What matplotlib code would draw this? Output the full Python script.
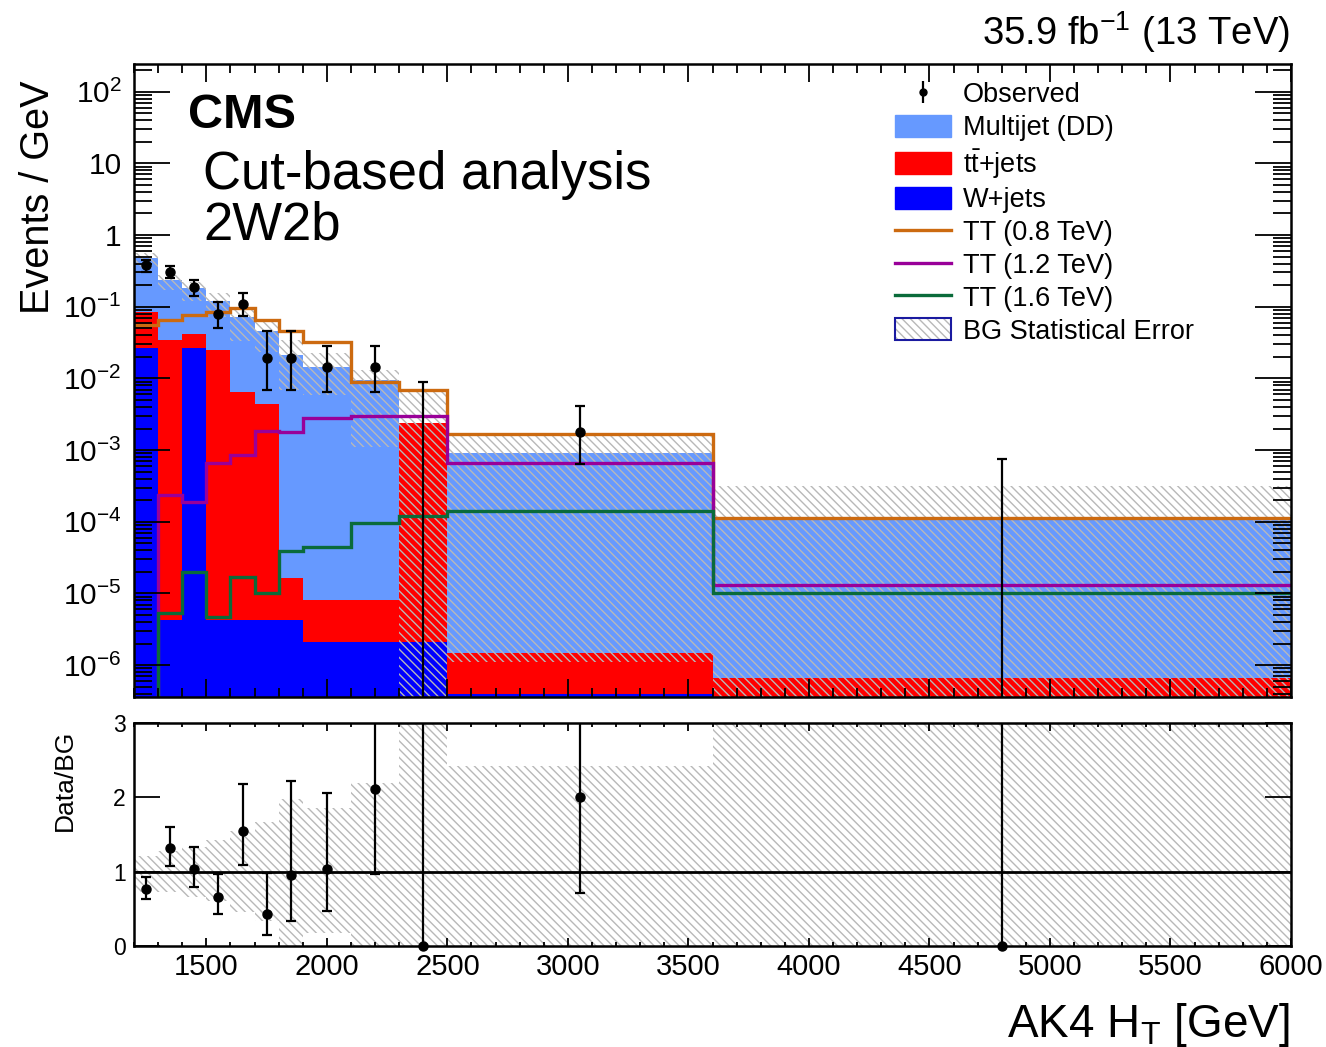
import numpy as np
import matplotlib
matplotlib.use('Agg')
import matplotlib.pyplot as plt
from matplotlib.patches import Patch
from matplotlib.lines import Line2D
from matplotlib.ticker import FixedLocator, FixedFormatter, MultipleLocator, LogLocator, NullFormatter, NullLocator

plt.rcParams['font.family'] = ['Liberation Sans', 'DejaVu Sans']
plt.rcParams['mathtext.default'] = 'regular'
plt.rcParams['hatch.linewidth'] = 1.0

# binning in AK4 HT [GeV]
edges = np.array([1200, 1300, 1400, 1500, 1600, 1700, 1800, 1900, 2100, 2300, 2500, 3600, 6000])
centers = 0.5 * (edges[1:] + edges[:-1])

# backgrounds (events / GeV), stacked W -> ttbar -> multijet
wjets = np.array([0.0265, 4.3e-6, 0.0265, 4.3e-6, 4.3e-6, 4.3e-6, 4.3e-6, 2.1e-6, 2.1e-6, 2.1e-6, 4.0e-7, 0])
ttbar = np.array([0.058, 0.0343, 0.0151, 0.0249, 0.00646, 0.0044, 1.21e-5, 6.0e-6, 6.0e-6, 0.00241, 1.08e-6, 6.6e-7])
multijet = np.array([0.394, 0.202, 0.140, 0.095, 0.0653, 0.0414, 0.0212, 0.0144, 0.0095, 0, 9.1e-4, 1.1e-4])

# signals
tt08 = np.array([0.0556, 0.0653, 0.0766, 0.0843, 0.096, 0.0653, 0.0458, 0.0322, 0.0089, 0.0069, 1.68e-3, 1.13e-4])
tt12 = np.array([1e-9, 2.36e-4, 1.89e-4, 6.6e-4, 8.5e-4, 1.85e-3, 1.8e-3, 2.8e-3, 2.99e-3, 2.99e-3, 6.6e-4, 1.31e-5])
tt16 = np.array([1e-9, 5.3e-6, 2.0e-5, 4.7e-6, 1.7e-5, 1.02e-5, 3.9e-5, 4.5e-5, 9.6e-5, 1.2e-4, 1.42e-4, 1.02e-5])

# observed data and error bar ends
obs = np.array([0.382, 0.305, 0.188, 0.079, 0.109, 0.0193, 0.0193, 0.0144, 0.0144, 0, 1.79e-3, 0])
obs_hi = np.array([0.448, 0.37, 0.236, 0.116, 0.155, 0.0458, 0.0458, 0.0283, 0.0283, 0.0089, 4.1e-3, 7.5e-4])
obs_lo = np.array([0.305, 0.251, 0.141, 0.0505, 0.0742, 0.0069, 0.0069, 0.00646, 0.00646, 0, 6.4e-4, 0])

# BG statistical error band
band_hi = np.array([0.561, 0.277, 0.221, 0.155, 0.096, 0.061, 0.0343, 0.0226, 0.0131, 0.00646, 1.73e-3, 3.16e-4])
band_lo = np.array([0.344, 0.17, 0.12, 0.072, 0.033, 0.0233, 0.0069, 0.0059, 1.1e-3, 0, 1.1e-6, 0])

# ratio panel
ratio = np.array([0.77, 1.32, 1.03, 0.66, 1.55, 0.43, 0.95, 1.04, 2.11, 0, 2.0, 0])
ratio_hi = np.array([0.92, 1.60, 1.33, 0.97, 2.17, 0.98, 2.21, 2.05, 3.5, 5.0, 4.6, 5.0])
ratio_lo = np.array([0.63, 1.08, 0.79, 0.43, 1.09, 0.15, 0.34, 0.47, 0.97, 0, 0.71, 0])
rband_hi = np.array([1.21, 1.28, 1.33, 1.42, 1.54, 1.67, 1.98, 1.85, 2.19, 5.0, 2.42, 5.0])
rband_lo = np.array([0.72, 0.72, 0.66, 0.60, 0.46, 0.33, 0, 0.17, 0, 0, 0, 0])

c_mj = '#6699ff'
c_tt = '#ff0000'
c_w = '#0000ff'
c_08 = '#cc6a10'
c_12 = '#990099'
c_16 = '#0a6b3a'
c_hatch = '#b8b8b8'
hatch = '\\\\\\\\'

fig = plt.figure(figsize=(13.26, 10.47), dpi=100)
ax = fig.add_axes([0.1011, 0.3343, 0.8725, 0.6046])
rax = fig.add_axes([0.1011, 0.0965, 0.8725, 0.2133])

floor = 1e-9
s1 = np.maximum(wjets, floor)
s2 = s1 + ttbar
s3 = s2 + multijet
ax.stairs(s1, edges, baseline=floor, fill=True, color=c_w, lw=0)
ax.stairs(s2, edges, baseline=s1, fill=True, color=c_tt, lw=0)
ax.stairs(s3, edges, baseline=s2, fill=True, color=c_mj, lw=0)
ax.stairs(band_hi, edges, baseline=np.maximum(band_lo, floor), fill=True,
          facecolor='none', edgecolor=c_hatch, hatch=hatch, lw=0)

ax.stairs(tt08, edges, baseline=None, color=c_08, lw=2.4)
ax.stairs(tt12, edges, baseline=None, color=c_12, lw=2.4)
ax.stairs(tt16, edges, baseline=None, color=c_16, lw=2.4)

ax.vlines(centers, np.maximum(obs_lo, floor), obs_hi, color='k', lw=1.6, zorder=5)
ax.plot(centers, obs_hi, ls='none', marker='_', ms=7, mew=1.6, color='k', zorder=5)
m = obs_lo > 0
ax.plot(centers[m], obs_lo[m], ls='none', marker='_', ms=7, mew=1.6, color='k', zorder=5)
m = obs > 0
ax.plot(centers[m], obs[m], 'o', color='k', ms=6.5, zorder=6)

ax.set_yscale('log')
ax.set_xlim(1200, 6000)
ax.set_ylim(3.6e-7, 243)
ax.yaxis.set_major_locator(FixedLocator([1e-6, 1e-5, 1e-4, 1e-3, 1e-2, 1e-1, 1, 10, 100]))
ax.yaxis.set_major_formatter(FixedFormatter(['$10^{-6}$', '$10^{-5}$', '$10^{-4}$', '$10^{-3}$',
                                             '$10^{-2}$', '$10^{-1}$', '1', '10', '$10^{2}$']))
ax.yaxis.set_minor_locator(LogLocator(base=10, subs=np.arange(2, 10), numticks=30))
ax.yaxis.set_minor_formatter(NullFormatter())
ax.xaxis.set_major_locator(MultipleLocator(500))
ax.xaxis.set_minor_locator(MultipleLocator(100))
ax.tick_params(axis='x', which='major', direction='in', length=13, width=1.3, top=True, bottom=True, labelbottom=False)
ax.tick_params(axis='x', which='minor', direction='in', length=6.5, width=1.3, top=True, bottom=True)
ax.tick_params(axis='y', which='major', direction='in', length=26, width=1.3, left=True, right=True, labelsize=21.5, pad=9)
ax.tick_params(axis='y', which='minor', direction='in', length=13, width=1.3, left=True, right=True)
[s.set_linewidth(1.8) for s in ax.spines.values()]
[s.set_zorder(10) for s in ax.spines.values()]

# legend
h_obs = (Line2D([], [], color='k', marker='|', ms=16, mew=1.6, ls='none'),
         Line2D([], [], color='k', marker='o', ms=5, ls='none'))
h_err = (Patch(facecolor='white', edgecolor=c_hatch, hatch=hatch, lw=0),
         Patch(facecolor='none', edgecolor='#1a1aa0', lw=1.5))
handles = [h_obs, Patch(color=c_mj), Patch(color=c_tt), Patch(color=c_w),
           Line2D([], [], color=c_08, lw=2.4), Line2D([], [], color=c_12, lw=2.4),
           Line2D([], [], color=c_16, lw=2.4), h_err]
labels = ['Observed', 'Multijet (DD)', r't$\bar{t}$+jets', 'W+jets',
          'TT (0.8 TeV)', 'TT (1.2 TeV)', 'TT (1.6 TeV)', 'BG Statistical Error']
ax.legend(handles, labels, loc='upper left', bbox_to_anchor=(0.658, 0.972), frameon=False,
          fontsize=19.5, handlelength=2.05, handleheight=0.9, handletextpad=0.45,
          labelspacing=0.23, borderpad=0, borderaxespad=0)

# ratio panel
rax.stairs(rband_hi, edges, baseline=rband_lo, fill=True, facecolor='none',
           edgecolor=c_hatch, hatch=hatch, lw=0)
rax.axhline(1, color='k', lw=2.0, zorder=4)
rax.vlines(centers, ratio_lo, ratio_hi, color='k', lw=1.6, zorder=5)
rax.plot(centers, ratio_hi, ls='none', marker='_', ms=7, mew=1.6, color='k', zorder=5)
m = ratio_lo > 0
rax.plot(centers[m], ratio_lo[m], ls='none', marker='_', ms=7, mew=1.6, color='k', zorder=5)
rax.plot(centers, ratio, 'o', color='k', ms=6.5, zorder=6, clip_on=False)
rax.set_xlim(1200, 6000)
rax.set_ylim(0, 3)
rax.yaxis.set_major_locator(FixedLocator([0, 1, 2, 3]))
rax.yaxis.set_minor_locator(NullLocator())
rax.xaxis.set_major_locator(MultipleLocator(500))
rax.xaxis.set_minor_locator(MultipleLocator(100))
rax.tick_params(axis='x', which='major', direction='in', length=6, width=1.3, top=True, bottom=True, labelsize=21, pad=5)
rax.tick_params(axis='x', which='minor', direction='in', length=3, width=1.3, top=True, bottom=True)
rax.tick_params(axis='y', which='major', direction='in', length=19, width=1.3, left=True, right=True, labelsize=16.5, pad=6)
[s.set_linewidth(1.8) for s in rax.spines.values()]
[s.set_zorder(10) for s in rax.spines.values()]

W, H = 1326.0, 1047.0
fig.text(1290 / W, 1 - 45 / H, r'35.9 fb$^{-1}$ (13 TeV)', ha='right', va='baseline', fontsize=27.5)
fig.text(188 / W, 1 - 128 / H, 'CMS', ha='left', va='baseline', fontsize=35, weight='bold')
fig.text(203 / W, 1 - 189 / H, 'Cut-based analysis', ha='left', va='baseline', fontsize=38)
fig.text(203 / W, 1 - 240 / H, '2W2b', ha='left', va='baseline', fontsize=38)
fig.text(38 / W, 1 - 80 / H, 'Events / GeV', rotation=90, ha='center', va='top', fontsize=28.5)
fig.text(65 / W, 1 - 730 / H, 'Data/BG', rotation=90, ha='center', va='top', fontsize=19)
fig.text(1290 / W, 1 - 1037 / H, r'AK4 H$_{T}$ [GeV]', ha='right', va='baseline', fontsize=33)

fig.savefig('out.png', dpi=100)
